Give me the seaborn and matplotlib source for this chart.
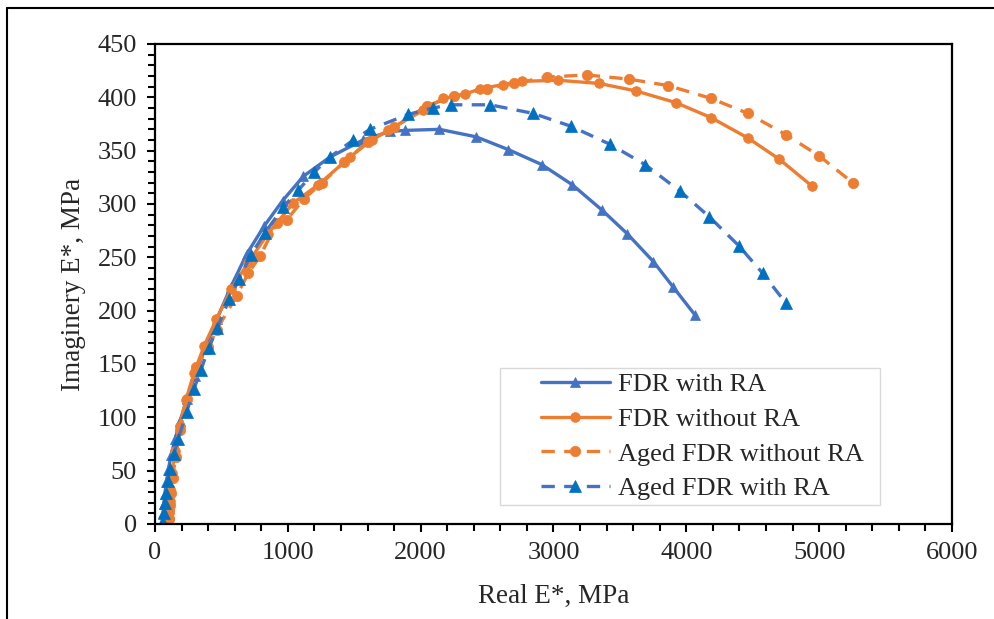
import matplotlib
matplotlib.use("Agg")
import matplotlib.pyplot as plt
import seaborn as sns
import pandas as pd
from matplotlib.ticker import MultipleLocator
from matplotlib.lines import Line2D
from matplotlib.patches import Rectangle

# ---- data ----
fdr_ra_x = [55, 60, 66, 74, 85, 100, 122, 152, 190, 240, 300, 375, 465, 570, 690, 820,
            960, 1117, 1317, 1566, 1769, 1882, 2141, 2417, 2660, 2911, 3142, 3368, 3556,
            3752, 3902, 4065]
fdr_ra_y = [2, 10, 19, 28, 39, 51, 65, 80, 97, 117, 139, 164, 192, 222, 253, 279,
            303, 326, 344, 360, 368, 369, 370, 363, 351, 337, 318, 294, 272,
            246, 222, 196]

fdr_nora_x = [98, 102, 106, 110, 116, 128, 150, 185, 232, 295, 370, 462, 575, 700, 850,
              1041, 1229, 1468, 1631, 1757, 2020, 2171, 2334, 2447, 2622, 2760, 3036,
              3345, 3621, 3922, 4186, 4462, 4700, 4944]
fdr_nora_y = [1, 6, 13, 22, 33, 48, 68, 92, 116, 142, 167, 192, 220, 245, 272,
              301, 318, 344, 360, 369, 388, 399, 403, 408, 412, 415, 416,
              413, 406, 395, 381, 362, 342, 317]

aged_nora_x = [100, 104, 108, 112, 118, 132, 155, 190, 238, 309, 401, 464, 615, 702, 790,
               916, 991, 1122, 1260, 1420, 1600, 1800, 2045, 2250, 2500, 2700, 2953,
               3250, 3571, 3864, 4186, 4462, 4750, 5001, 5252]
aged_nora_y = [1, 5, 11, 18, 29, 43, 63, 88, 117, 147, 166, 182, 214, 235, 251,
               282, 285, 305, 320, 339, 358, 372, 392, 401, 408, 413, 419,
               421, 417, 411, 399, 385, 365, 345, 320]

aged_ra_x = [50, 58, 63, 68, 75, 83, 95, 113, 143, 176, 238, 294, 344, 405, 469, 560, 635,
             720, 828, 966, 1079, 1200, 1317, 1493, 1619, 1907, 2090, 2228, 2522, 2845,
             3129, 3425, 3689, 3953, 4173, 4394, 4575, 4750]
aged_ra_y = [0, 0, 1, 10, 20, 29, 40, 52, 66, 80, 105, 127, 144, 165, 184, 211, 230,
             252, 273, 297, 313, 330, 344, 360, 370, 384, 390, 393, 393, 385,
             373, 356, 337, 312, 288, 261, 235, 207]

series_names = ["FDR with RA", "FDR without RA", "Aged FDR without RA", "Aged FDR with RA"]
x_ticks = [0, 1000, 2000, 3000, 4000, 5000, 6000]
y_ticks = [0, 50, 100, 150, 200, 250, 300, 350, 400, 450]

frames = []
for name, xs, ys in zip(series_names,
                        [fdr_ra_x, fdr_nora_x, aged_nora_x, aged_ra_x],
                        [fdr_ra_y, fdr_nora_y, aged_nora_y, aged_ra_y]):
    frames.append(pd.DataFrame({"x": xs, "y": ys, "series": name}))
df = pd.concat(frames, ignore_index=True)

sns.set_style("white")
plt.rcParams["font.family"] = ["Liberation Serif", "DejaVu Serif"]

fig = plt.figure(figsize=(9.95, 6.19), dpi=100)
ax = fig.add_axes([155/995, 1-524/619, (952-155)/995, (524-44)/619])

BLUE = "#4472C4"
BLUE_D = "#0070C0"
ORANGE = "#ED7D31"
styles = {
    "FDR with RA": dict(color=BLUE, ls="-", marker="^", ms=7, mfc=BLUE, mec=BLUE),
    "FDR without RA": dict(color=ORANGE, ls="-", marker="o", ms=7, mfc=ORANGE, mec=ORANGE),
    "Aged FDR without RA": dict(color=ORANGE, ls=(0, (4, 2.8)), marker="o", ms=7.5, mfc=ORANGE, mec=ORANGE),
    "Aged FDR with RA": dict(color=BLUE, ls=(0, (4, 2.8)), marker="^", ms=8, mfc=BLUE_D, mec=BLUE_D),
}

for name in series_names:
    st = styles[name]
    sub = df[df["series"] == name]
    sns.lineplot(data=sub, x="x", y="y", ax=ax, sort=False, estimator=None,
                 color=st["color"], linewidth=2.4, label=name,
                 linestyle=st["ls"], marker=st["marker"], markersize=st["ms"],
                 markerfacecolor=st["mfc"], markeredgecolor=st["mec"], markeredgewidth=0.5)

ax.set_xlim(0, 6000)
ax.set_ylim(0, 450)
ax.set_xticks(x_ticks)
ax.set_yticks(y_ticks)
ax.xaxis.set_minor_locator(MultipleLocator(200))
ax.yaxis.set_minor_locator(MultipleLocator(10))
ax.tick_params(axis="both", which="major", direction="out", length=6, width=1.5,
               labelsize=19, color="black", pad=7)
ax.tick_params(axis="both", which="minor", direction="out", length=5, width=1.5, color="black")
ax.tick_params(axis="x", which="both", bottom=True)
ax.tick_params(axis="y", which="both", left=True)
for sp in ax.spines.values():
    sp.set_visible(True)
    sp.set_color("black")
    sp.set_linewidth(1.6)

ax.set_xlabel("Real E*, MPa", fontsize=19.5, labelpad=14)
ax.set_ylabel("Imaginery E*, MPa", fontsize=19.5, labelpad=8)

# legend box (Excel style: wide left padding)
ax.add_patch(Rectangle(((500-155)/797, 19/480), (880-500)/797, (505-368)/480,
                       transform=ax.transAxes, facecolor="white", edgecolor="#D9D9D9",
                       linewidth=1.0, zorder=4))
leg = ax.legend(loc="upper left", bbox_to_anchor=((541-155)/797, (524-373)/480),
                borderaxespad=0, borderpad=0, fontsize=19, frameon=False,
                handlelength=2.6, handletextpad=0.3, labelspacing=0.42, numpoints=1)
leg.set_zorder(5)

# outer figure frame (left and top visible)
fig.add_artist(Line2D([7.5/995, 7.5/995], [0, 1-7.5/619], transform=fig.transFigure,
                      color="black", lw=1.5))
fig.add_artist(Line2D([7.5/995, 1], [1-7.5/619, 1-7.5/619], transform=fig.transFigure,
                      color="black", lw=1.5))

fig.savefig("out.png", dpi=100)
